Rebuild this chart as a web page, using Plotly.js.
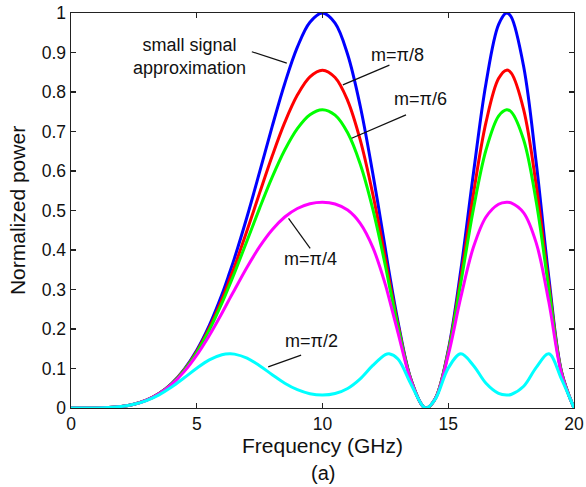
<!DOCTYPE html>
<html>
<head>
<meta charset="utf-8">
<script src="https://cdn.plot.ly/plotly-3.0.1.min.js"></script>
<style>html,body{margin:0;padding:0;background:#fff}#chart{width:586px;height:487px}</style>
</head>
<body>
<div id="chart"></div>
<script>
// Frequency (GHz)
var freq = [0,0.5,1,1.5,2,2.5,3,3.5,4,4.5,5,5.5,6,6.31,6.5,7,7.5,8,8.5,9,9.5,10,10.5,11,11.5,12,12.5,12.65,13,13.5,14,14.14,14.5,15,15.5,16,16.5,17,17.32,17.5,18,18.5,19,19.5,20];
// Normalized power
var smallSignal = [0,0.00002,0.00025,0.00125,0.00394,0.00961,0.01985,0.03657,0.06185,0.09781,0.14645,0.20929,0.28711,0.34351,0.37946,0.48429,0.59754,0.71289,0.82173,0.91354,0.97674,1,0.97431,0.89505,0.76461,0.59369,0.40246,0.34351,0.21897,0.07575,0.00394,0,0.02570,0.14645,0.34922,0.59369,0.82173,0.97044,1,0.99039,0.86380,0.61957,0.32990,0.09274,0];
var mPi8 = [0,0.00002,0.00025,0.00125,0.00394,0.00959,0.01979,0.03637,0.06126,0.09635,0.14317,0.20263,0.27463,0.32571,0.35779,0.44923,0.54455,0.63802,0.72294,0.79215,0.83853,0.85535,0.83677,0.77839,0.67876,0.54136,0.37812,0.32571,0.21168,0.07487,0.00394,0,0.02560,0.14317,0.33083,0.54136,0.72294,0.83396,0.85535,0.84842,0.75493,0.56268,0.31347,0.09142,0];
var mPi6 = [0,0.00002,0.00025,0.00125,0.00394,0.00958,0.01975,0.03621,0.06081,0.09522,0.14067,0.19757,0.26524,0.31240,0.34166,0.42344,0.50609,0.58440,0.65310,0.70727,0.74262,0.75524,0.74129,0.69664,0.61767,0.50337,0.36005,0.31240,0.20615,0.07419,0.00394,0,0.02552,0.14067,0.31709,0.50337,0.65310,0.73917,0.75524,0.75005,0.67835,0.52149,0.30116,0.09041,0];
var mPi4 = [0,0.00002,0.00025,0.00125,0.00393,0.00955,0.01961,0.03576,0.05953,0.09206,0.13371,0.18368,0.23986,0.27684,0.29885,0.35643,0.40836,0.45132,0.48353,0.50499,0.51698,0.52086,0.51656,0.50106,0.46758,0.40676,0.31231,0.27684,0.19101,0.07228,0.00393,0,0.02529,0.13371,0.28042,0.40676,0.48353,0.51589,0.52086,0.51929,0.49400,0.41731,0.26820,0.08756,0];
var mPi2 = [0,0.00002,0.00025,0.00125,0.00391,0.00938,0.01890,0.03339,0.05299,0.07645,0.10086,0.12187,0.13481,0.13723,0.13637,0.12614,0.10705,0.08421,0.06279,0.04632,0.03624,0.03282,0.03661,0.04947,0.07386,0.10778,0.13501,0.13723,0.12420,0.06265,0.00391,0,0.02411,0.10086,0.13720,0.10778,0.06279,0.03719,0.03282,0.03422,0.05500,0.10282,0.13709,0.07344,0];

var seriesNames = ["small signal approximation","m=π/8","m=π/6","m=π/4","m=π/2"];
var seriesColors = ["#0000ff","#ff0000","#00ff00","#ff00ff","#00ffff"];
var seriesValues = [smallSignal, mPi8, mPi6, mPi4, mPi2];

var xTickVals = [0,5,10,15,20];
var xTickText = ["0","5","10","15","20"];
var yTickVals = [0,0.1,0.2,0.3,0.4,0.5,0.6,0.7,0.8,0.9,1];
var yTickText = ["0","0.1","0.2","0.3","0.4","0.5","0.6","0.7","0.8","0.9","1"];

// Curve labels: text, label centre (GHz, power), leader line from -> to
var labelText = ["small signal<br>approximation","m=π/8","m=π/6","m=π/4","m=π/2"];
var labelX = [4.70, 13.0, 13.88, 9.51, 9.55];
var labelY = [0.889, 0.894, 0.782, 0.376, 0.170];
var leadX0 = [7.19, 12.66, 13.32, 8.65, 9.15];
var leadY0 = [0.902, 0.868, 0.742, 0.480, 0.134];
var leadX1 = [8.58, 10.81, 11.16, 9.51, 7.84];
var leadY1 = [0.873, 0.818, 0.683, 0.404, 0.104];

var FONT = "Liberation Sans, Arial, Helvetica, sans-serif";

var traces = seriesValues.map(function(v, i) {
  return {
    x: freq, y: v, type: "scatter", mode: "lines", name: seriesNames[i],
    line: {color: seriesColors[i], width: 3, shape: "spline", smoothing: 1}
  };
});

var annotations = labelText.map(function(t, i) {
  return {x: labelX[i], y: labelY[i], xref: "x", yref: "y", text: t, showarrow: false,
    xanchor: "center", yanchor: "middle", font: {family: FONT, size: 18, color: "#111"}};
});
annotations.push({x: 10, y: -0.165, xref: "x", yref: "paper", text: "(a)", showarrow: false,
  xanchor: "center", yanchor: "middle", borderpad: 0, font: {family: FONT, size: 20, color: "#111"}});

var shapes = leadX0.map(function(x0, i) {
  return {type: "line", xref: "x", yref: "y", x0: x0, y0: leadY0[i], x1: leadX1[i], y1: leadY1[i],
    line: {color: "#111", width: 1.2}};
});

var layout = {
  width: 586, height: 487,
  margin: {l: 71, r: 12, t: 13, b: 79, pad: 0},
  paper_bgcolor: "#fff", plot_bgcolor: "#fff",
  showlegend: false,
  font: {family: FONT, size: 17, color: "#111"},
  xaxis: {
    range: [0, 20], tickvals: xTickVals, ticktext: xTickText,
    ticks: "inside", ticklen: 5, tickwidth: 1.2, tickcolor: "#222",
    showline: true, linecolor: "#222", linewidth: 1.4, mirror: "ticks",
    showgrid: false, zeroline: false,
    tickfont: {family: FONT, size: 17.5, color: "#111"},
    title: {text: "Frequency (GHz)", font: {family: FONT, size: 21, color: "#111"}, standoff: 3}
  },
  yaxis: {
    range: [0, 1], tickvals: yTickVals, ticktext: yTickText,
    ticks: "inside", ticklen: 5, tickwidth: 1.2, tickcolor: "#222",
    showline: true, linecolor: "#222", linewidth: 1.4, mirror: "ticks",
    showgrid: false, zeroline: false,
    tickfont: {family: FONT, size: 17.5, color: "#111"},
    title: {text: "Normalized power", font: {family: FONT, size: 21, color: "#111"}, standoff: 10}
  },
  annotations: annotations,
  shapes: shapes
};

Plotly.newPlot("chart", traces, layout, {staticPlot: true, displayModeBar: false});
</script>
</body>
</html>
